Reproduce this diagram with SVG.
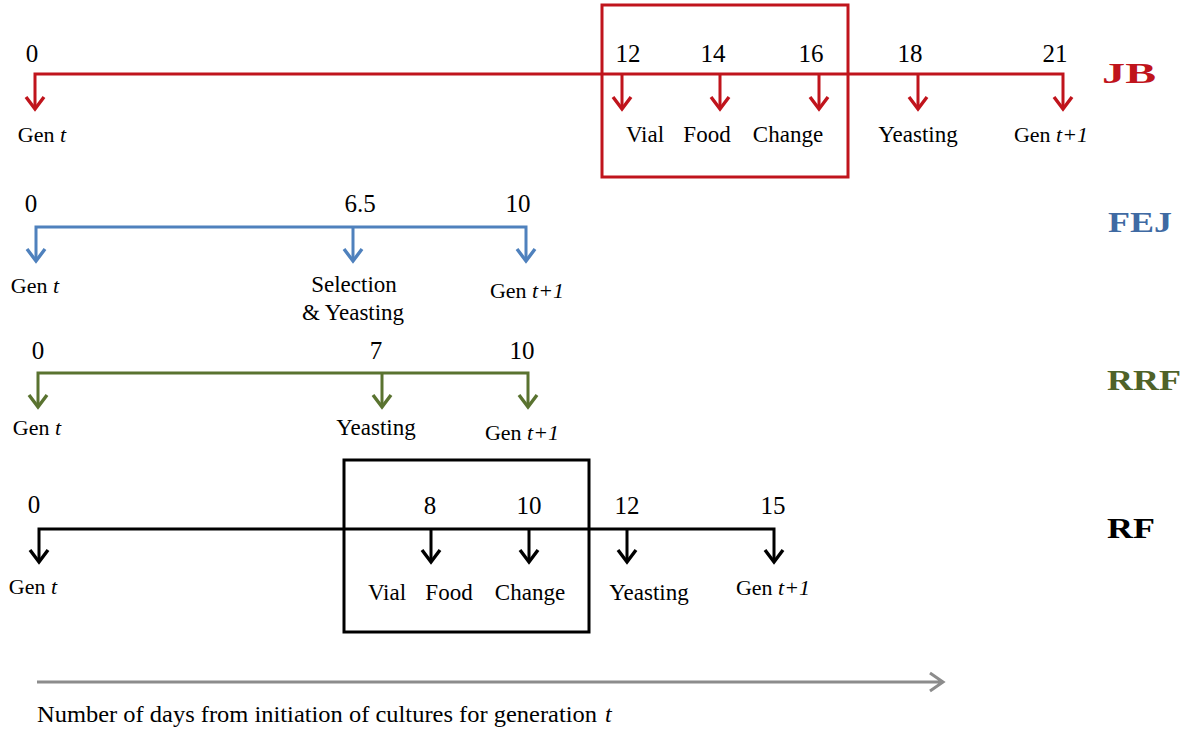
<svg xmlns="http://www.w3.org/2000/svg" width="1193" height="740" viewBox="0 0 1193 740">
<style>
text{font-family:"Liberation Serif","Times New Roman",serif;fill:#000}
.n{font-size:25px;text-anchor:middle}
.l{font-size:23px;text-anchor:middle}
.g{font-size:22px;text-anchor:middle}
.i{font-style:italic}
.b{font-size:30px;font-weight:bold}
.ln{fill:none;stroke-width:3;stroke-linejoin:miter;stroke-linecap:butt}
.hd{fill:none;stroke-width:3.4;stroke-linejoin:miter;stroke-linecap:butt}
.red{stroke:#c0141c}
.blue{stroke:#4f81bd}
.green{stroke:#5a7330}
.black{stroke:#000}
.box{fill:none;stroke-width:3}
</style>
<rect width="1193" height="740" fill="#fff"/>

<g id="connectors">
  <!-- JB -->
  <path class="ln red" d="M35,108 V74 H1063 V108"/>
  <path class="ln red" d="M622,74 V108 M720,74 V108 M819,74 V108 M918,74 V108"/>
  <path class="hd red" d="M26,97 L35,109 L44,97 M613,97 L622,109 L631,97 M711,97 L720,109 L729,97 M810,97 L819,109 L828,97 M909,97 L918,109 L927,97 M1054,97 L1063,109 L1072,97"/>
  <!-- FEJ -->
  <path class="ln blue" d="M36,260 V227 H526 V260"/>
  <path class="ln blue" d="M353,227 V260"/>
  <path class="hd blue" d="M27,249 L36,261 L45,249 M344,249 L353,261 L362,249 M517,249 L526,261 L535,249"/>
  <!-- RRF -->
  <path class="ln green" d="M38,406 V373 H528 V406"/>
  <path class="ln green" d="M382,373 V406"/>
  <path class="hd green" d="M29,395 L38,407 L47,395 M373,395 L382,407 L391,395 M519,395 L528,407 L537,395"/>
  <!-- RF -->
  <path class="ln black" d="M39,561 V529 H774 V561"/>
  <path class="ln black" d="M431,529 V561 M529,529 V561 M627,529 V561"/>
  <path class="hd black" d="M30,550 L39,562 L48,550 M422,550 L431,562 L440,550 M520,550 L529,562 L538,550 M618,550 L627,562 L636,550 M765,550 L774,562 L783,550"/>
  <!-- time axis -->
  <path class="ln" stroke="#8c8c8c" d="M37,682 H942 M930,673 L943,682 L930,691"/>
</g>

<g id="jb-box"><rect class="box" x="602" y="5" width="246" height="172" stroke="#c0141c"/></g>
<g id="rf-box"><rect class="box" x="344" y="460" width="245" height="172" stroke="#000"/></g>

<g id="jb">
  <text class="n" x="32" y="62">0</text>
  <text class="n" x="628" y="62">12</text>
  <text class="n" x="713" y="62">14</text>
  <text class="n" x="811" y="62">16</text>
  <text class="n" x="910" y="62">18</text>
  <text class="n" x="1055" y="62">21</text>
  <text class="g" x="42" y="142">Gen <tspan class="i">t</tspan></text>
  <text class="l" x="645" y="142">Vial</text>
  <text class="l" x="707" y="142">Food</text>
  <text class="l" x="788" y="142">Change</text>
  <text class="l" x="918" y="142">Yeasting</text>
  <text class="g" x="1051" y="142">Gen <tspan class="i">t+1</tspan></text>
  <text class="b" x="1102" y="83" style="fill:#c0141c" textLength="54" lengthAdjust="spacingAndGlyphs">JB</text>
</g>

<g id="fej">
  <text class="n" x="31" y="212">0</text>
  <text class="n" x="360" y="212">6.5</text>
  <text class="n" x="518" y="212">10</text>
  <text class="g" x="35" y="293">Gen <tspan class="i">t</tspan></text>
  <text class="l" x="354" y="292">Selection</text>
  <text class="l" x="353" y="320">&amp; Yeasting</text>
  <text class="g" x="527" y="298">Gen <tspan class="i">t+1</tspan></text>
  <text class="b" x="1108" y="232" style="fill:#3f6aa3" textLength="64" lengthAdjust="spacingAndGlyphs">FEJ</text>
</g>

<g id="rrf">
  <text class="n" x="38" y="359">0</text>
  <text class="n" x="376" y="359">7</text>
  <text class="n" x="522" y="359">10</text>
  <text class="g" x="37" y="435">Gen <tspan class="i">t</tspan></text>
  <text class="l" x="376" y="435">Yeasting</text>
  <text class="g" x="522" y="440">Gen <tspan class="i">t+1</tspan></text>
  <text class="b" x="1107" y="390" style="fill:#4f6228" textLength="74" lengthAdjust="spacingAndGlyphs">RRF</text>
</g>

<g id="rf">
  <text class="n" x="34" y="513">0</text>
  <text class="n" x="430" y="514">8</text>
  <text class="n" x="529" y="514">10</text>
  <text class="n" x="627" y="514">12</text>
  <text class="n" x="773" y="514">15</text>
  <text class="g" x="33" y="594">Gen <tspan class="i">t</tspan></text>
  <text class="l" x="387" y="600">Vial</text>
  <text class="l" x="449" y="600">Food</text>
  <text class="l" x="530" y="600">Change</text>
  <text class="l" x="649" y="600">Yeasting</text>
  <text class="g" x="773" y="595">Gen <tspan class="i">t+1</tspan></text>
  <text class="b" x="1107" y="538" textLength="48" lengthAdjust="spacingAndGlyphs">RF</text>
</g>

<g id="axis-label">
  <text x="37" y="722" style="font-size:23.5px" textLength="560" lengthAdjust="spacingAndGlyphs">Number of days from initiation of cultures for generation</text>
  <text x="605" y="722" class="i" style="font-size:24px">t</text>
</g>
</svg>
